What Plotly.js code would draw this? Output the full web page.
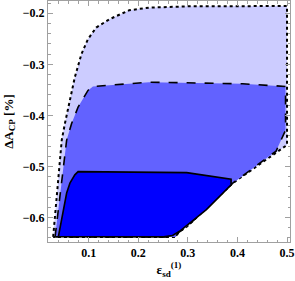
<!DOCTYPE html>
<html>
<head>
<meta charset="utf-8">
<script src="https://cdn.plot.ly/plotly-3.0.1.min.js"></script>
<style>html,body{margin:0;padding:0;background:#fff;}#chart{width:295px;height:281px;}</style>
</head>
<body>
<div id="chart"></div>
<script>
// Outer region (dotted border)
const outerX = [0.0284, 0.0457, 0.0522, 0.0622, 0.0721, 0.0855, 0.0986, 0.1153, 0.1418, 0.1816, 0.2214, 0.30, 0.40, 0.500, 0.500, 0.3906, 0.2976, 0.2811, 0.2751, 0.0284];
const outerY = [-0.638, -0.4484, -0.4154, -0.3706, -0.3253, -0.2798, -0.2506, -0.2280, -0.2117, -0.1942, -0.1890, -0.1865, -0.1860, -0.1858, -0.458, -0.5327, -0.6183, -0.6294, -0.638, -0.638];
// Middle region (dashed border)
const midX = [0.0323, 0.0556, 0.0656, 0.0787, 0.0986, 0.1086, 0.2214, 0.4104, 0.497, 0.497, 0.478, 0.3906, 0.2976, 0.2811, 0.2751, 0.0323];
const midY = [-0.638, -0.4484, -0.4160, -0.3837, -0.3512, -0.3434, -0.3350, -0.3381, -0.3434, -0.429, -0.470, -0.5327, -0.6183, -0.6294, -0.638, -0.638];
// Inner region (solid border)
const innerX = [0.0389, 0.0556, 0.0622, 0.0721, 0.0787, 0.2214, 0.2976, 0.3872, 0.3872, 0.3374, 0.2851, 0.2692, 0.2512, 0.0389];
const innerY = [-0.6377, -0.5521, -0.5327, -0.5165, -0.5101, -0.5113, -0.5121, -0.5249, -0.5360, -0.5847, -0.6256, -0.6353, -0.6380, -0.6377];

const xTitle = 'ε<sub>sd</sub><sup>(1)</sup>';
const yTitle = 'ΔA<sub>CP</sub> [%]';

const traces = [
  {x: outerX, y: outerY, type: 'scatter', mode: 'lines', fill: 'toself',
   fillcolor: 'rgb(204,204,255)', line: {color: '#000', width: 2, dash: 'dot'}, hoverinfo: 'skip'},
  {x: midX, y: midY, type: 'scatter', mode: 'lines', fill: 'toself',
   fillcolor: 'rgb(98,98,255)', line: {color: '#000', width: 1.6, dash: 'dash'}, hoverinfo: 'skip'},
  {x: innerX, y: innerY, type: 'scatter', mode: 'lines', fill: 'toself',
   fillcolor: 'rgb(0,0,255)', line: {color: '#000', width: 1.6}, hoverinfo: 'skip'}
];

const axisCommon = {
  showgrid: false, zeroline: false, showline: true, linecolor: '#a0a0a0', linewidth: 1,
  mirror: 'allticks', ticks: 'inside', ticklen: 5, tickcolor: '#a0a0a0', tickwidth: 1,
  ticklabeloverflow: 'allow',
  tickfont: {family: 'Liberation Serif', size: 12, color: '#000', weight: 'bold'},
  minor: {dtick: 0.02, ticks: 'inside', ticklen: 2.5, tickcolor: '#a0a0a0', tickwidth: 1}
};

const layout = {
  width: 295, height: 281,
  margin: {l: 48, r: 5, t: 1, b: 39},
  paper_bgcolor: '#fff', plot_bgcolor: '#fff',
  showlegend: false,
  xaxis: Object.assign({}, axisCommon, {
    range: [0.018, 0.506], tick0: 0, dtick: 0.1,
    title: {text: xTitle, font: {family: 'Liberation Serif', size: 13, color: '#000', weight: 'bold'}, standoff: 4}
  }),
  yaxis: Object.assign({}, axisCommon, {
    range: [-0.648, -0.176], tick0: 0, dtick: 0.1,
    title: {text: yTitle, font: {family: 'Liberation Serif', size: 13, color: '#000', weight: 'bold'}, standoff: 6}
  })
};

Plotly.newPlot('chart', traces, layout, {staticPlot: true, displayModeBar: false});
</script>
</body>
</html>
